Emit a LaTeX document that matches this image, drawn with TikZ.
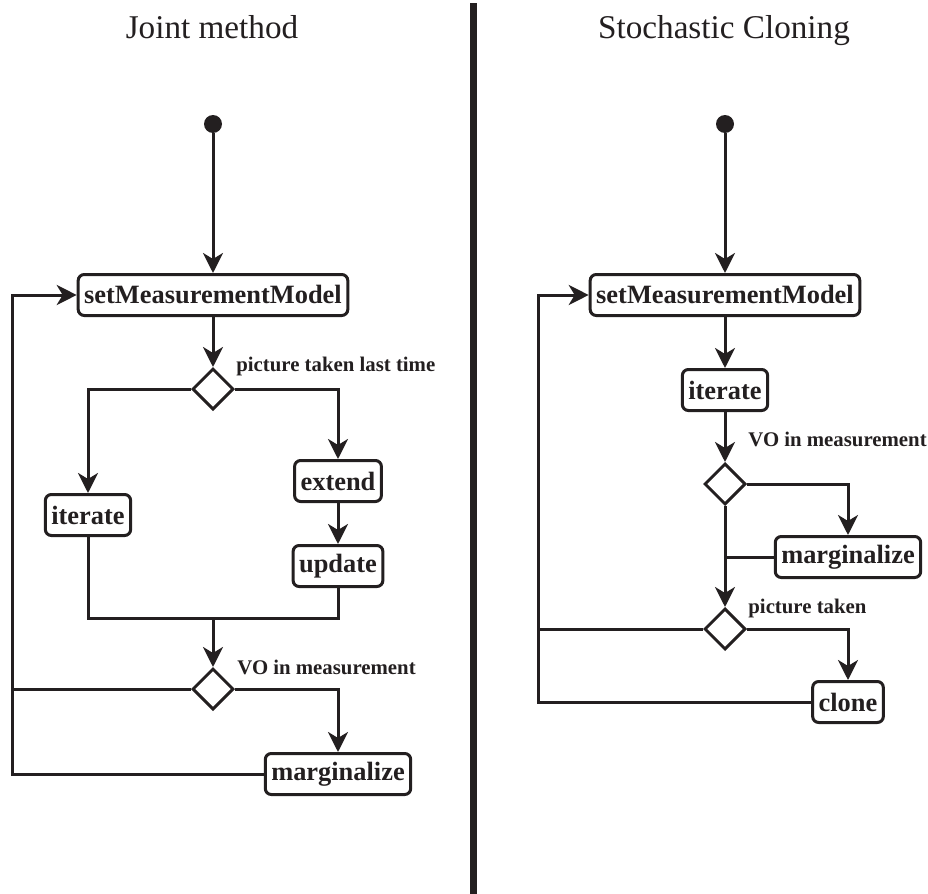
\documentclass[tikz,border=0pt]{standalone}
\usepackage{fontspec}
\setmainfont{Liberation Serif}[BoldFont={Liberation Serif Bold}]
\usepackage{tikz}
\usetikzlibrary{arrows.meta,shapes.geometric}
\definecolor{ink}{RGB}{35,31,32}
\tikzset{
    box/.style={rectangle,rounded corners=3pt,draw,line width=1.5pt,inner xsep=3pt,inner ysep=0pt,minimum height=20.5pt,font=\fontsize{13.2}{15}\selectfont\bfseries},
    decision/.style={diamond,draw,line width=1.5pt,inner sep=0pt,minimum size=20.5pt},
    start/.style={circle,fill,inner sep=0pt,minimum size=9pt},
    edge/.style={-{Stealth[length=10pt,width=10pt,inset=3pt]},line width=1.5pt},
    line/.style={line width=1.5pt},
    cond/.style={anchor=base west,inner sep=0pt,font=\fontsize{10.4}{12}\selectfont\bfseries},
    title/.style={anchor=base,inner sep=0pt,font=\fontsize{16.6}{20}\selectfont}
}

\begin{document}
\begin{tikzpicture}[x=0.5pt,y=-0.5pt,ink]
\useasboundingbox (0,0) rectangle (928,894);
% titles and divider
\node[title] (t1) at (212,39) {Joint method};
\node[title] (t2) at (724,39) {Stochastic Cloning};
\draw[line width=3.5pt] (473.5,3) -- (473.5,894);

% joint method
\node[start] (a0) at (213,124) {};
\node[box] (a1) at (213,295) {setMeasurementModel};
\node[decision] (a2) at (213,389) {};
\node[box] (a3) at (88,515) {iterate};
\node[box] (a4) at (338,481) {extend};
\node[box] (a5) at (338,566) {update};
\node[decision] (a6) at (213,689) {};
\node[box] (a7) at (338,774) {marginalize};
\coordinate (a8) at (213,618);
\coordinate (a9) at (12,689);
\node[cond] (c1) at (236,371) {picture taken last time};
\node[cond] (c2) at (237,674) {VO in measurement};

\draw[edge] (a0) -- (a1);
\draw[edge] (a1) -- (a2);
\draw[edge] (a2.west) -| (a3);
\draw[edge] (a2.east) -| (a4);
\draw[edge] (a4) -- (a5);
\draw[line] (a3) |- (a8) -| (a5);
\draw[edge] (a8) -- (a6);
\draw[edge] (a6.east) -| (a7);
\draw[line] (a6.west) -- (a9);
\draw[edge] (a7.west) -| (a9) |- (a1.west);

% stochastic cloning
\node[start] (b0) at (725,124) {};
\node[box] (b1) at (725,295) {setMeasurementModel};
\node[box] (b2) at (725,390) {iterate};
\node[decision] (b3) at (725,484) {};
\node[box] (b4) at (848,557) {marginalize};
\node[decision] (b5) at (725,629) {};
\node[box] (b6) at (848,702) {clone};
\coordinate (b7) at (538,629);
\node[cond] (c3) at (748,446) {VO in measurement};
\node[cond] (c4) at (748,613) {picture taken};

\draw[edge] (b0) -- (b1);
\draw[edge] (b1) -- (b2);
\draw[edge] (b2) -- (b3);
\draw[edge] (b3.east) -| (b4);
\draw[edge] (b3) -- (b5);
\draw[line] (b4.west) -- (b4.west -| b3.south);
\draw[edge] (b5.east) -| (b6);
\draw[line] (b5.west) -- (b7);
\draw[edge] (b6.west) -| (b7) |- (b1.west);

\end{tikzpicture}
\end{document}
